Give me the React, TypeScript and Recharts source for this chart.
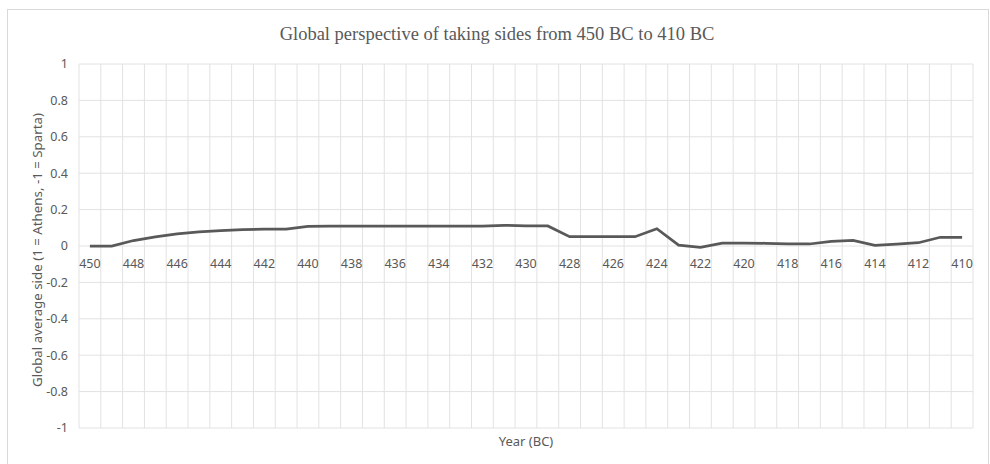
import React from 'react';
import { LineChart, Line, XAxis, YAxis, CartesianGrid } from 'recharts';

const years: number[] = [450, 449, 448, 447, 446, 445, 444, 443, 442, 441, 440, 439, 438, 437, 436, 435, 434, 433, 432, 431, 430, 429, 428, 427, 426, 425, 424, 423, 422, 421, 420, 419, 418, 417, 416, 415, 414, 413, 412, 411, 410];
const sideValues: number[] = [0, 0, 0.03, 0.05, 0.066, 0.078, 0.085, 0.09, 0.093, 0.093, 0.108, 0.109, 0.109, 0.109, 0.109, 0.109, 0.109, 0.109, 0.109, 0.114, 0.11, 0.11, 0.051, 0.051, 0.051, 0.051, 0.095, 0.005, -0.007, 0.016, 0.016, 0.015, 0.011, 0.011, 0.026, 0.031, 0.004, 0.01, 0.018, 0.048, 0.048];
const yTicks: number[] = [-1, -0.8, -0.6, -0.4, -0.2, 0, 0.2, 0.4, 0.6, 0.8, 1];

const W = 990;
const H = 464;
const PLOT_TOP = 64;
const PLOT_BOTTOM = 428;
const PLOT_LEFT = 79;
const PLOT_RIGHT = 973;
const ZERO_Y = (PLOT_TOP + PLOT_BOTTOM) / 2;
const GRID = '#e2e2e2';
const TXT = '#595959';
const FONT = '"Noto Sans", "Open Sans", sans-serif';

const data = years.map((y, i) => ({ year: String(y), side: sideValues[i] }));

const XTick = (props: any) => {
  const { x, payload } = props;
  return (
    <text x={x} y={ZERO_Y + 22} textAnchor="middle" fontSize={12.5} fill={TXT} fontFamily={FONT}>
      {payload.value}
    </text>
  );
};

export default function App() {
  return (
    <div style={{ position: 'absolute', left: 0, top: 0, width: W, height: H, background: '#fff' }}>
      <LineChart
        width={W}
        height={H}
        data={data}
        margin={{ top: PLOT_TOP, right: W - PLOT_RIGHT, left: 0, bottom: 0 }}
      >
        <rect x={7.5} y={9.5} width={981} height={470} fill="none" stroke="#d9d9d9" strokeWidth={1} />
        <text x={497} y={40} textAnchor="middle" fontSize={18.5} fill={TXT} fontFamily='"Liberation Serif", "Times New Roman", serif'>
          Global perspective of taking sides from 450 BC to 410 BC
        </text>
        <text
          x={0}
          y={0}
          transform={`translate(42, ${ZERO_Y + 4}) rotate(-90)`}
          textAnchor="middle"
          fontSize={13.3}
          fill={TXT}
          fontFamily={FONT}
        >
          Global average side (1 = Athens, -1 = Sparta)
        </text>
        <text x={(PLOT_LEFT + PLOT_RIGHT) / 2} y={446} textAnchor="middle" fontSize={13} fill={TXT} fontFamily={FONT}>
          Year (BC)
        </text>
        <CartesianGrid
          stroke={GRID}
          strokeWidth={1}
          verticalCoordinatesGenerator={({ offset }: any) =>
            Array.from({ length: years.length + 1 }, (_, i) => offset.left + (i * offset.width) / years.length)
          }
        />
        <XAxis
          dataKey="year"
          scale="band"
          interval={1}
          axisLine={false}
          tickLine={false}
          height={H - PLOT_BOTTOM}
          tick={<XTick />}
        />
        <YAxis
          type="number"
          domain={[-1, 1]}
          ticks={yTicks}
          width={PLOT_LEFT}
          axisLine={false}
          tickLine={false}
          tickSize={6}
          tickMargin={5}
          tick={{ fontSize: 12.5, fill: TXT, fontFamily: FONT }}
          interval={0}
        />
        <Line
          type="linear"
          dataKey="side"
          stroke="#595959"
          strokeWidth={2.75}
          dot={false}
          isAnimationActive={false}
        />
      </LineChart>
    </div>
  );
}
